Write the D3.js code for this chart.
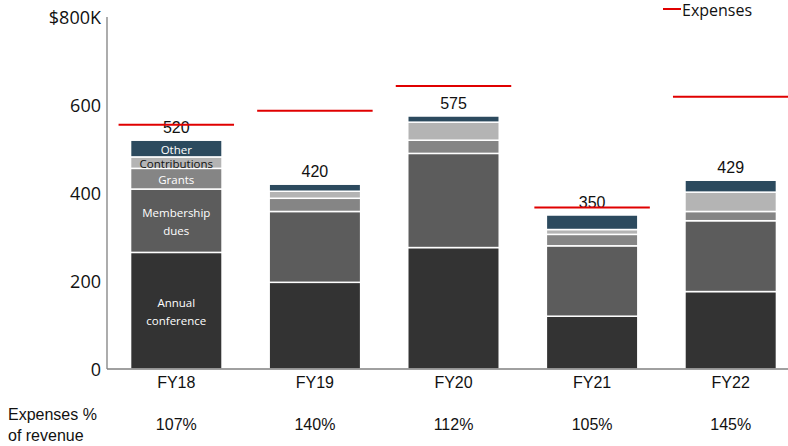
<!DOCTYPE html>
<html>
<head>
<meta charset="utf-8">
<script src="https://cdn.jsdelivr.net/npm/d3@7"></script>
<style>
  body { margin: 0; background: #fff; }
  svg { display: block; }
</style>
</head>
<body>
<svg id="chart"></svg>
<script>
// Revenue by source ($K), stacked bottom to top
const years = ['FY18', 'FY19', 'FY20', 'FY21', 'FY22'];
const sources = ['Annual conference', 'Membership dues', 'Grants', 'Contributions', 'Other'];
const annualConference = [265, 197, 276, 120, 176];
const membershipDues = [144, 161, 214, 160, 161];
const grants = [47, 30, 30, 26, 21];
const contributions = [26, 16, 41, 11, 44];
const other = [38, 16, 14, 33, 27];
const totals = [520, 420, 575, 350, 429];
const expenses = [555, 587, 643, 367, 619];
const expensePct = ['107%', '140%', '112%', '105%', '145%'];
const yTicks = [0, 200, 400, 600, 800];

class RevenueChart {
    constructor(_config, _data) {
        this.config = {
            parentElement: _config.parentElement,
            containerWidth: _config.containerWidth || 788,
            containerHeight: _config.containerHeight || 446,
            margin: _config.margin || { top: 17, right: -12, bottom: 77, left: 107 }
        };
        this.data = _data;
        this.initVis();
    }

    initVis() {
        let vis = this;

        vis.width = vis.config.containerWidth - vis.config.margin.left - vis.config.margin.right;
        vis.height = vis.config.containerHeight - vis.config.margin.top - vis.config.margin.bottom;

        vis.xScale = d3.scaleBand()
            .domain(years)
            .range([0, vis.width])
            .paddingInner(0.34)
            .paddingOuter(0.17);

        vis.yScale = d3.scaleLinear()
            .domain([0, 800])
            .range([vis.height, 0]);

        vis.colorScale = d3.scaleOrdinal()
            .domain(sources)
            .range(['#333333', '#5c5c5c', '#858585', '#b4b4b4', '#2c4a5e']);

        vis.svg = d3.select(vis.config.parentElement)
            .attr('width', vis.config.containerWidth)
            .attr('height', vis.config.containerHeight);

        vis.chart = vis.svg.append('g')
            .attr('transform', `translate(${vis.config.margin.left},${vis.config.margin.top})`);

        vis.updateVis();
    }

    updateVis() {
        let vis = this;

        // one row per year, keyed by source
        vis.rows = years.map((year, i) => {
            const row = { year: year, total: totals[i], expense: expenses[i], pct: expensePct[i] };
            sources.forEach((s, j) => row[s] = vis.data[j][i]);
            return row;
        });

        vis.stacked = d3.stack().keys(sources)(vis.rows);
        vis.renderVis();
    }

    renderVis() {
        let vis = this;

        // stacked segments
        vis.chart.selectAll('.layer')
            .data(vis.stacked)
            .join('g')
            .attr('class', 'layer')
            .attr('fill', d => vis.colorScale(d.key))
          .selectAll('rect')
            .data(d => d)
            .join('rect')
            .attr('x', d => vis.xScale(d.data.year))
            .attr('y', d => vis.yScale(d[1]))
            .attr('width', vis.xScale.bandwidth())
            .attr('height', d => vis.yScale(d[0]) - vis.yScale(d[1]))
            .attr('stroke', '#fff')
            .attr('stroke-width', 1.5);

        // source names inside the first bar
        const first = years[0];
        const segLabels = [
            { key: 'Other', lines: ['Other'], fill: '#fff' },
            { key: 'Contributions', lines: ['Contributions'], fill: '#111' },
            { key: 'Grants', lines: ['Grants'], fill: '#fff' },
            { key: 'Membership dues', lines: ['Membership', 'dues'], fill: '#fff' },
            { key: 'Annual conference', lines: ['Annual', 'conference'], fill: '#fff' }
        ];
        segLabels.forEach(l => {
            const seg = vis.stacked.find(s => s.key === l.key)[0];
            const mid = (vis.yScale(seg[0]) + vis.yScale(seg[1])) / 2;
            const lh = 18;
            vis.chart.append('text')
                .attr('x', vis.xScale(first) + vis.xScale.bandwidth() / 2)
                .attr('y', mid - (l.lines.length - 1) * lh / 2)
                .attr('text-anchor', 'middle')
                .attr('dominant-baseline', 'central')
                .attr('font-family', 'Open Sans, sans-serif')
                .attr('font-size', '11.5px')
                .attr('fill', l.fill)
                .selectAll('tspan')
                .data(l.lines)
                .join('tspan')
                .attr('x', vis.xScale(first) + vis.xScale.bandwidth() / 2)
                .attr('dy', (d, i) => i === 0 ? 0 : lh)
                .text(d => d);
        });

        // totals above bars
        vis.chart.selectAll('.total')
            .data(vis.rows)
            .join('text')
            .attr('class', 'total')
            .attr('x', d => vis.xScale(d.year) + vis.xScale.bandwidth() / 2)
            .attr('y', d => vis.yScale(d.total) - 7)
            .attr('text-anchor', 'middle')
            .attr('font-family', 'Liberation Sans, Arial, sans-serif')
            .attr('font-size', '16px')
            .attr('fill', '#111')
            .text(d => d.total);

        // expense markers
        const ext = 12;
        vis.chart.selectAll('.expense')
            .data(vis.rows)
            .join('line')
            .attr('class', 'expense')
            .attr('x1', d => vis.xScale(d.year) - ext)
            .attr('x2', d => vis.xScale(d.year) + vis.xScale.bandwidth() + ext)
            .attr('y1', d => vis.yScale(d.expense))
            .attr('y2', d => vis.yScale(d.expense))
            .attr('stroke', '#e00000')
            .attr('stroke-width', 2);

        // axes
        vis.chart.append('line')
            .attr('x1', 0).attr('x2', 0)
            .attr('y1', vis.yScale(800)).attr('y2', vis.height)
            .attr('stroke', '#808080').attr('stroke-width', 1.3);
        vis.chart.append('line')
            .attr('x1', 0).attr('x2', vis.config.containerWidth)
            .attr('y1', vis.height).attr('y2', vis.height)
            .attr('stroke', '#808080').attr('stroke-width', 1.6);

        vis.chart.selectAll('.ytick')
            .data(yTicks)
            .join('text')
            .attr('class', 'ytick')
            .attr('x', -6)
            .attr('y', d => vis.yScale(d))
            .attr('text-anchor', 'end')
            .attr('dominant-baseline', 'central')
            .attr('font-family', 'Open Sans, sans-serif')
            .attr('font-size', '18px')
            .attr('fill', '#111')
            .text(d => d === 800 ? '$800K' : d);

        vis.chart.selectAll('.xlabel')
            .data(years)
            .join('text')
            .attr('class', 'xlabel')
            .attr('x', d => vis.xScale(d) + vis.xScale.bandwidth() / 2)
            .attr('y', vis.height + 19)
            .attr('text-anchor', 'middle')
            .attr('font-family', 'Liberation Sans, Arial, sans-serif')
            .attr('font-size', '16px')
            .attr('fill', '#111')
            .text(d => d);

        // expenses as % of revenue row
        vis.chart.selectAll('.pct')
            .data(vis.rows)
            .join('text')
            .attr('class', 'pct')
            .attr('x', d => vis.xScale(d.year) + vis.xScale.bandwidth() / 2)
            .attr('y', vis.height + 61)
            .attr('text-anchor', 'middle')
            .attr('font-family', 'Liberation Sans, Arial, sans-serif')
            .attr('font-size', '16px')
            .attr('fill', '#111')
            .text(d => d.pct);

        vis.svg.append('text')
            .attr('x', 8)
            .attr('font-family', 'Liberation Sans, Arial, sans-serif')
            .attr('font-size', '16px')
            .attr('fill', '#111')
            .selectAll('tspan')
            .data(['Expenses %', 'of revenue'])
            .join('tspan')
            .attr('x', 8)
            .attr('y', (d, i) => 420 + i * 21)
            .text(d => d);

        // legend
        const legend = vis.svg.append('g').attr('transform', 'translate(663,9)');
        legend.append('line')
            .attr('x1', 0).attr('x2', 18)
            .attr('stroke', '#e00000').attr('stroke-width', 2);
        legend.append('text')
            .attr('x', 19)
            .attr('y', 1)
            .attr('dominant-baseline', 'central')
            .attr('font-family', 'Open Sans, sans-serif')
            .attr('font-size', '16px')
            .attr('fill', '#111')
            .text('Expenses');
    }
}

new RevenueChart({ parentElement: '#chart' },
    [annualConference, membershipDues, grants, contributions, other]);
</script>
</body>
</html>
